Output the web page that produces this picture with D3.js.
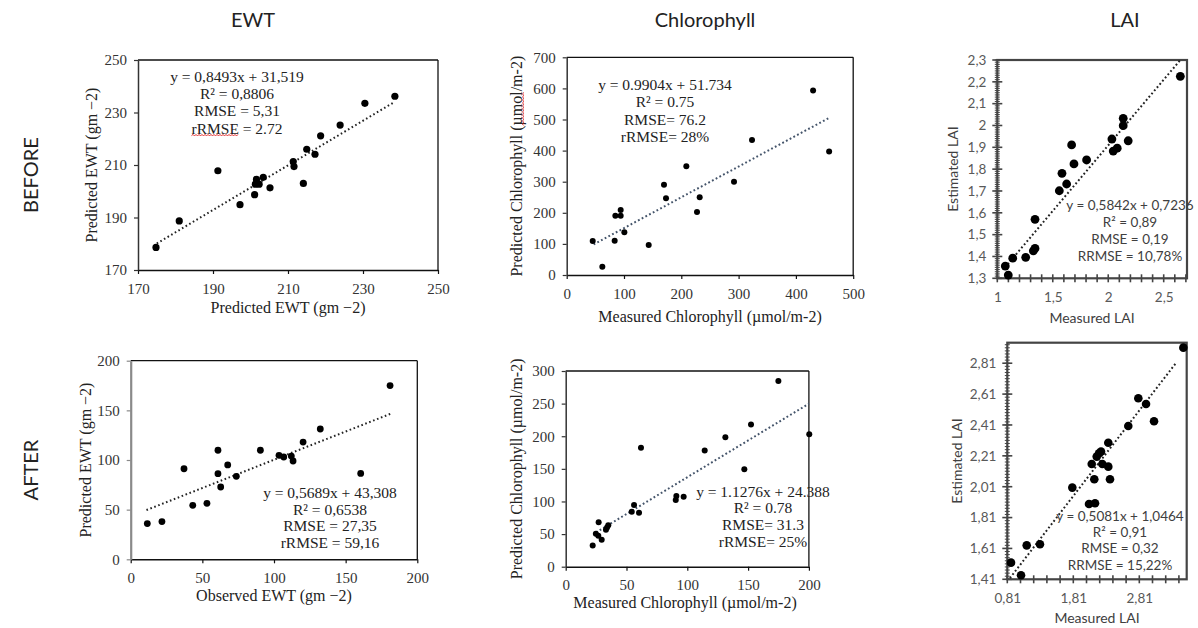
<!DOCTYPE html>
<html><head><meta charset="utf-8">
<script src="https://cdn.jsdelivr.net/npm/d3@7"></script>
<style>body{margin:0;background:#fff;} svg{display:block;}</style>
</head><body><svg id="c" width="1198" height="628"></svg>
<script>
// ---------- DATA ----------
// EWT before
const ewtBeforeX = [174.8, 181.0, 191.3, 197.2, 201.1, 201.6, 201.3, 202.3, 203.4, 205.2, 211.4, 211.6, 214.1, 215.0, 217.2, 218.7, 223.9, 230.5, 238.5];
const ewtBeforeY = [178.6, 188.7, 207.8, 194.9, 198.7, 204.5, 202.7, 202.7, 205.3, 201.3, 211.3, 209.4, 203.0, 216.0, 214.1, 221.1, 225.2, 233.5, 236.2];
const ewtBeforeTrend = [[175, 180.1], [238.5, 234.1]];
const ewtBeforeTicks = [170, 190, 210, 230, 250];
const ewtBeforeText = ["y = 0,8493x + 31,519", "R\u00B2 = 0,8806", "RMSE = 5,31", "rRMSE = 2.72"];

// Chlorophyll before
const chlBeforeX = [45.4, 62.2, 83.7, 84.9, 94.2, 94.2, 100.6, 143.1, 169.8, 173.3, 208.8, 227.4, 232.1, 292.0, 323.4, 430, 458];
const chlBeforeY = [109.3, 26.7, 110.3, 190.7, 209, 190.7, 137.2, 96.5, 290.4, 246.6, 349.5, 202.6, 249.8, 300, 434, 593, 397];
const chlBeforeTrend = [[47, 98.3], [458, 505.3]];
const chlBeforeXTicks = [0, 100, 200, 300, 400, 500];
const chlBeforeYTicks = [0, 100, 200, 300, 400, 500, 600, 700];
const chlBeforeText = ["y = 0.9904x + 51.734", "R\u00B2 = 0.75", "RMSE= 76.2", "rRMSE= 28%"];

// LAI before
const laiBeforeX = [1.072, 1.099, 1.139, 1.256, 1.325, 1.340, 1.340, 1.559, 1.583, 1.625, 1.670, 1.691, 1.805, 2.033, 2.045, 2.081, 2.135, 2.135, 2.180, 2.65];
const laiBeforeY = [1.356, 1.315, 1.392, 1.396, 1.426, 1.437, 1.570, 1.701, 1.781, 1.732, 1.911, 1.824, 1.842, 1.938, 1.883, 1.896, 2.033, 1.999, 1.930, 2.225];
const laiBeforeTrend = [[1.07, 1.35], [2.65, 2.30]];
const laiBeforeXTicks = [1, 1.5, 2, 2.5];
const laiBeforeXLabels = ["1", "1,5", "2", "2,5"];
const laiBeforeYTicks = [1.3, 1.4, 1.5, 1.6, 1.7, 1.8, 1.9, 2.0, 2.1, 2.2, 2.3];
const laiBeforeYLabels = ["1,3", "1,4", "1,5", "1,6", "1,7", "1,8", "1,9", "2", "2,1", "2,2", "2,3"];
const laiBeforeText = ["y = 0,5842x + 0,7236", "R\u00B2 = 0,89", "RMSE = 0,19", "RRMSE = 10,78%"];

// EWT after
const ewtAfterX = [11.6, 21.8, 37.2, 43.3, 53.2, 60.9, 60.9, 62.8, 67.7, 73.7, 90.5, 103.5, 106.8, 112.1, 113.3, 120.3, 132.3, 160.5, 181];
const ewtAfterY = [36, 38, 91.2, 54.4, 56.4, 109.8, 86.2, 72.8, 95, 83.6, 109.8, 104.7, 103, 104, 99, 118.1, 131.2, 86.5, 175];
const ewtAfterTrend = [[11, 49.6], [182, 146.9]];
const ewtAfterTicks = [0, 50, 100, 150, 200];
const ewtAfterText = ["y = 0,5689x + 43,308", "R\u00B2 = 0,6538", "RMSE = 27,35", "rRMSE = 59,16"];

// Chlorophyll after
const chlAfterX = [22.2, 24.8, 26.8, 27.1, 29.6, 33.1, 34.0, 35.0, 54.3, 56.2, 60.3, 61.9, 90.5, 91.0, 97.0, 114.3, 131.3, 146.9, 152.4, 174.9, 200.3];
const chlAfterY = [32.5, 50.5, 47.5, 68.3, 41.5, 56.5, 60.0, 63.5, 84.4, 94.6, 82.8, 182.3, 102.3, 108.4, 107.4, 178, 198.5, 149.4, 217.8, 284.8, 203];
const chlAfterTrend = [[25, 52.6], [200, 249.9]];
const chlAfterXTicks = [0, 50, 100, 150, 200];
const chlAfterYTicks = [0, 50, 100, 150, 200, 250, 300];
const chlAfterText = ["y = 1.1276x + 24.388", "R\u00B2 = 0.78", "RMSE= 31.3", "rRMSE= 25%"];

// LAI after
const laiAfterX = [0.866, 1.018, 1.104, 1.305, 1.795, 2.048, 2.139, 2.128, 2.089, 2.25, 2.34, 2.366, 2.165, 2.20, 2.23, 2.34, 2.643, 2.795, 2.912, 3.033, 3.477];
const laiAfterY = [1.518, 1.436, 1.630, 1.637, 2.004, 1.898, 1.903, 2.058, 2.157, 2.157, 2.140, 2.058, 2.205, 2.227, 2.237, 2.295, 2.403, 2.583, 2.546, 2.434, 2.911];
const laiAfterTrend = [[0.85, 1.418], [3.37, 2.814]];
const laiAfterXTicks = [0.81, 1.81, 2.81];
const laiAfterXLabels = ["0,81", "1,81", "2,81"];
const laiAfterYTicks = [1.41, 1.61, 1.81, 2.01, 2.21, 2.41, 2.61, 2.81];
const laiAfterYLabels = ["1,41", "1,61", "1,81", "2,01", "2,21", "2,41", "2,61", "2,81"];
const laiAfterText = ["y = 0,5081x + 1,0464", "R\u00B2 = 0,91", "RMSE = 0,32", "RRMSE = 15,22%"];

const columnTitles = ["EWT", "Chlorophyll", "LAI"];
const rowTitles = ["BEFORE", "AFTER"];

// ---------- DRAWING ----------
const svg = d3.select('#c');
const SERIF = '"Liberation Serif","Times New Roman",serif';
const SANS = 'Lato,"Open Sans",sans-serif';

function squiggle(parent, textNode, i0, i1) {
  const a = textNode.getExtentOfChar(i0), b = textNode.getExtentOfChar(i1);
  const x0 = a.x, x1 = b.x + b.width, yb = a.y + a.height - 1;
  let d = `M${x0},${yb}`;
  let up = true;
  for (let xx = x0 + 1.5; xx <= x1; xx += 1.5) { d += `L${xx},${yb + (up ? -1.2 : 0.4)}`; up = !up; }
  parent.append('path').attr('d', d).attr('fill', 'none').attr('stroke', '#e02020').attr('stroke-width', 0.9);
}

function panel(o) {
  const x = d3.scaleLinear().domain(o.xDomain).range(o.xRange);
  const y = d3.scaleLinear().domain(o.yDomain).range(o.yRange);
  const g = svg.append('g');
  const [xl, xr] = o.xRange, [yb, yt] = o.yRange;
  const serif = o.kind === 'serif';
  const font = serif ? SERIF : SANS;

  if (serif) {
    g.append('line').attr('x1', xl).attr('x2', xr).attr('y1', yt).attr('y2', yt).attr('stroke', '#111').attr('stroke-width', 1.3);
    g.append('line').attr('x1', xr).attr('x2', xr).attr('y1', yt).attr('y2', yb).attr('stroke', '#111').attr('stroke-width', 1.3);
  } else {
    g.append('rect').attr('x', xl).attr('y', yt).attr('width', xr - xl).attr('height', yb - yt)
      .attr('fill', 'none').attr('stroke', '#444').attr('stroke-width', 2.2);
  }

  if (serif) {
    const xa = d3.axisBottom(x).tickValues(o.xTicks).tickSize(4).tickSizeOuter(0).tickPadding(6).tickFormat(d3.format('d'));
    const ya = d3.axisLeft(y).tickValues(o.yTicks).tickSize(4).tickSizeOuter(0).tickPadding(7).tickFormat(d3.format('d'));
    const gx = g.append('g').attr('transform', `translate(0,${yb})`).call(xa);
    const gy = g.append('g').attr('transform', `translate(${xl},0)`).call(ya);
    gx.select('.domain').attr('stroke', '#111').attr('stroke-width', 1.5);
    gx.selectAll('.tick line').attr('stroke', '#111').attr('stroke-width', 1.2);
    gy.select('.domain').attr('stroke', o.yAxisColor).attr('stroke-width', o.yAxisWidth);
    gy.selectAll('.tick line').attr('stroke', o.yAxisColor).attr('stroke-width', 1.2);
    [gx, gy].forEach(a => a.selectAll('text').attr('font-family', font).attr('font-size', 15).attr('fill', '#333'));
    gx.selectAll('text').attr('dy', '0.9em');
  } else {
    const minorY = d3.range(o.yDomain[0], o.yDomain[1] + 1e-9, o.yMinor);
    const minorX = d3.range(o.xDomain[0], o.xDomain[1] + 1e-9, o.xMinor);
    g.selectAll(null).data(minorY).join('line')
      .attr('x1', xl - 2.5).attr('x2', xl + 2.5).attr('y1', d => y(d)).attr('y2', d => y(d))
      .attr('stroke', '#444').attr('stroke-width', 1);
    g.selectAll(null).data(o.yTicks).join('line')
      .attr('x1', xl - 5).attr('x2', xl + 5).attr('y1', d => y(d)).attr('y2', d => y(d))
      .attr('stroke', '#444').attr('stroke-width', 1.6);
    g.selectAll(null).data(minorX).join('line')
      .attr('x1', d => x(d)).attr('x2', d => x(d)).attr('y1', yb - 4).attr('y2', yb + 4)
      .attr('stroke', '#444').attr('stroke-width', 1.6);
    const xa = d3.axisBottom(x).tickValues(o.xTicks).tickSize(0).tickPadding(12).tickFormat((d, i) => o.xLabels[i]);
    const ya = d3.axisLeft(y).tickValues(o.yTicks).tickSize(0).tickPadding(11).tickFormat((d, i) => o.yLabels[i]);
    const gx = g.append('g').attr('transform', `translate(0,${yb})`).call(xa);
    const gy = g.append('g').attr('transform', `translate(${xl},0)`).call(ya);
    gx.select('.domain').remove(); gy.select('.domain').remove();
    [gx, gy].forEach(a => a.selectAll('text').attr('font-family', font).attr('font-size', 13.5).attr('fill', '#595959'));
    gx.selectAll('text').attr('dy', '0.9em');
  }

  const line = d3.line().x(d => x(d[0])).y(d => y(d[1]));
  g.append('path').attr('d', line(o.trend)).attr('fill', 'none')
    .attr('stroke', o.trendColor).attr('stroke-width', o.trendWidth)
    .attr('stroke-dasharray', o.dash);

  g.selectAll(null).data(o.xs.map((v, i) => [v, o.ys[i]])).join('circle')
    .attr('cx', d => x(d[0])).attr('cy', d => y(d[1])).attr('r', o.r).attr('fill', '#000');

  const et = g.append('g');
  o.text.forEach((t, i) => {
    const tn = et.append('text').attr('x', o.textX).attr('y', o.textY + i * o.textDy)
      .attr('text-anchor', 'middle').attr('font-family', font).attr('font-size', serif ? 15.5 : 13.5)
      .attr('fill', serif ? '#222' : '#404040').text(t);
    if (o.squiggleLine === i) squiggle(et, tn.node(), 0, 4);
  });

  const yl = g.append('g').attr('transform', `translate(${o.yLabelX},${(yb + yt) / 2}) rotate(-90)`);
  const ylt = yl.append('text').attr('text-anchor', 'middle').attr('dy', '0.35em')
    .attr('font-family', font).attr('font-size', serif ? 16 : 14).attr('fill', serif ? '#222' : '#404040')
    .text(o.yTitle);
  if (o.ySquiggle) squiggle(yl, ylt.node(), o.ySquiggle[0], o.ySquiggle[1]);
  g.append('text').attr('x', o.xLabelX).attr('y', o.xLabelY).attr('text-anchor', 'middle')
    .attr('font-family', font).attr('font-size', serif ? 16 : 14).attr('fill', serif ? '#222' : '#404040')
    .text(o.xTitle);
}

panel({kind: 'serif', xDomain: [170, 250], yDomain: [170, 250], xRange: [138, 438], yRange: [270, 60],
  xTicks: ewtBeforeTicks, yTicks: ewtBeforeTicks, yAxisColor: '#333', yAxisWidth: 1.5,
  xs: ewtBeforeX, ys: ewtBeforeY, r: 3.6, trend: ewtBeforeTrend, trendColor: '#222', trendWidth: 2, dash: '1.6,2.6',
  text: ewtBeforeText, textX: 237, textY: 82, textDy: 17.2, squiggleLine: 3,
  yTitle: 'Predicted EWT (gm \u22122)', yLabelX: 91, xTitle: 'Predicted EWT (gm \u22122)', xLabelX: 288, xLabelY: 313});

panel({kind: 'serif', xDomain: [0, 500], yDomain: [0, 700], xRange: [566.7, 853.2], yRange: [275, 57.3],
  xTicks: chlBeforeXTicks, yTicks: chlBeforeYTicks, yAxisColor: '#333', yAxisWidth: 1.5,
  xs: chlBeforeX, ys: chlBeforeY, r: 3, trend: chlBeforeTrend, trendColor: '#44546A', trendWidth: 2, dash: '1.8,2.4',
  text: chlBeforeText, textX: 665, textY: 89.5, textDy: 17.5,
  yTitle: 'Predicted Chlorophyll (\u00B5mol/m-2)', yLabelX: 516, ySquiggle: [23, 26],
  xTitle: 'Measured Chlorophyll (\u00B5mol/m-2)', xLabelX: 710, xLabelY: 322});

panel({kind: 'sans', xDomain: [1, 2.71], yDomain: [1.3, 2.3], xRange: [997.3, 1187], yRange: [278.3, 60],
  xTicks: laiBeforeXTicks, xLabels: laiBeforeXLabels, yTicks: laiBeforeYTicks, yLabels: laiBeforeYLabels,
  xMinor: 0.1, yMinor: 0.01,
  xs: laiBeforeX, ys: laiBeforeY, r: 4.4, trend: laiBeforeTrend, trendColor: '#222', trendWidth: 2, dash: '1.8,2.4',
  text: laiBeforeText, textX: 1130, textY: 209.5, textDy: 17,
  yTitle: 'Estimated LAI', yLabelX: 953, xTitle: 'Measured LAI', xLabelX: 1092, xLabelY: 323});

panel({kind: 'serif', xDomain: [0, 200], yDomain: [0, 200], xRange: [130.7, 417.3], yRange: [559.3, 360.7],
  xTicks: ewtAfterTicks, yTicks: ewtAfterTicks, yAxisColor: '#8a8a8a', yAxisWidth: 2.2,
  xs: ewtAfterX, ys: ewtAfterY, r: 3.4, trend: ewtAfterTrend, trendColor: '#222', trendWidth: 2, dash: '1.6,2.6',
  text: ewtAfterText, textX: 330, textY: 498, textDy: 16.7,
  yTitle: 'Predicted EWT (gm \u22122)', yLabelX: 85, xTitle: 'Observed EWT (gm \u22122)', xLabelX: 274, xLabelY: 601});

panel({kind: 'serif', xDomain: [0, 200], yDomain: [0, 300], xRange: [565.7, 808.9], yRange: [566.7, 371],
  xTicks: chlAfterXTicks, yTicks: chlAfterYTicks, yAxisColor: '#333', yAxisWidth: 1.5,
  xs: chlAfterX, ys: chlAfterY, r: 3, trend: chlAfterTrend, trendColor: '#44546A', trendWidth: 2, dash: '1.8,2.4',
  text: chlAfterText, textX: 763, textY: 496.5, textDy: 16.7,
  yTitle: 'Predicted Chlorophyll (\u00B5mol/m-2)', yLabelX: 516,
  xTitle: 'Measured Chlorophyll (\u00B5mol/m-2)', xLabelX: 685, xLabelY: 608});

panel({kind: 'sans', xDomain: [0.81, 3.528], yDomain: [1.41, 2.943], xRange: [1007.3, 1186.7], yRange: [579.3, 342.7],
  xTicks: laiAfterXTicks, xLabels: laiAfterXLabels, yTicks: laiAfterYTicks, yLabels: laiAfterYLabels,
  xMinor: 0.2, yMinor: 0.02,
  xs: laiAfterX, ys: laiAfterY, r: 4.3, trend: laiAfterTrend, trendColor: '#222', trendWidth: 2, dash: '1.8,2.4',
  text: laiAfterText, textX: 1120, textY: 520.5, textDy: 16.4,
  yTitle: 'Estimated LAI', yLabelX: 957, xTitle: 'Measured LAI', xLabelX: 1097, xLabelY: 623});

const colX = [253, 705, 1125];
svg.selectAll(null).data(columnTitles).join('text')
  .attr('x', (d, i) => colX[i]).attr('y', 27).attr('text-anchor', 'middle')
  .attr('font-family', SANS).attr('font-size', 20).attr('fill', '#222').text(d => d);
const rowY = [175, 470];
svg.selectAll(null).data(rowTitles).join('text')
  .attr('transform', (d, i) => `translate(38,${rowY[i]}) rotate(-90)`).attr('text-anchor', 'middle')
  .attr('font-family', SANS).attr('font-size', 20).attr('fill', '#222').text(d => d);
</script></body></html>
